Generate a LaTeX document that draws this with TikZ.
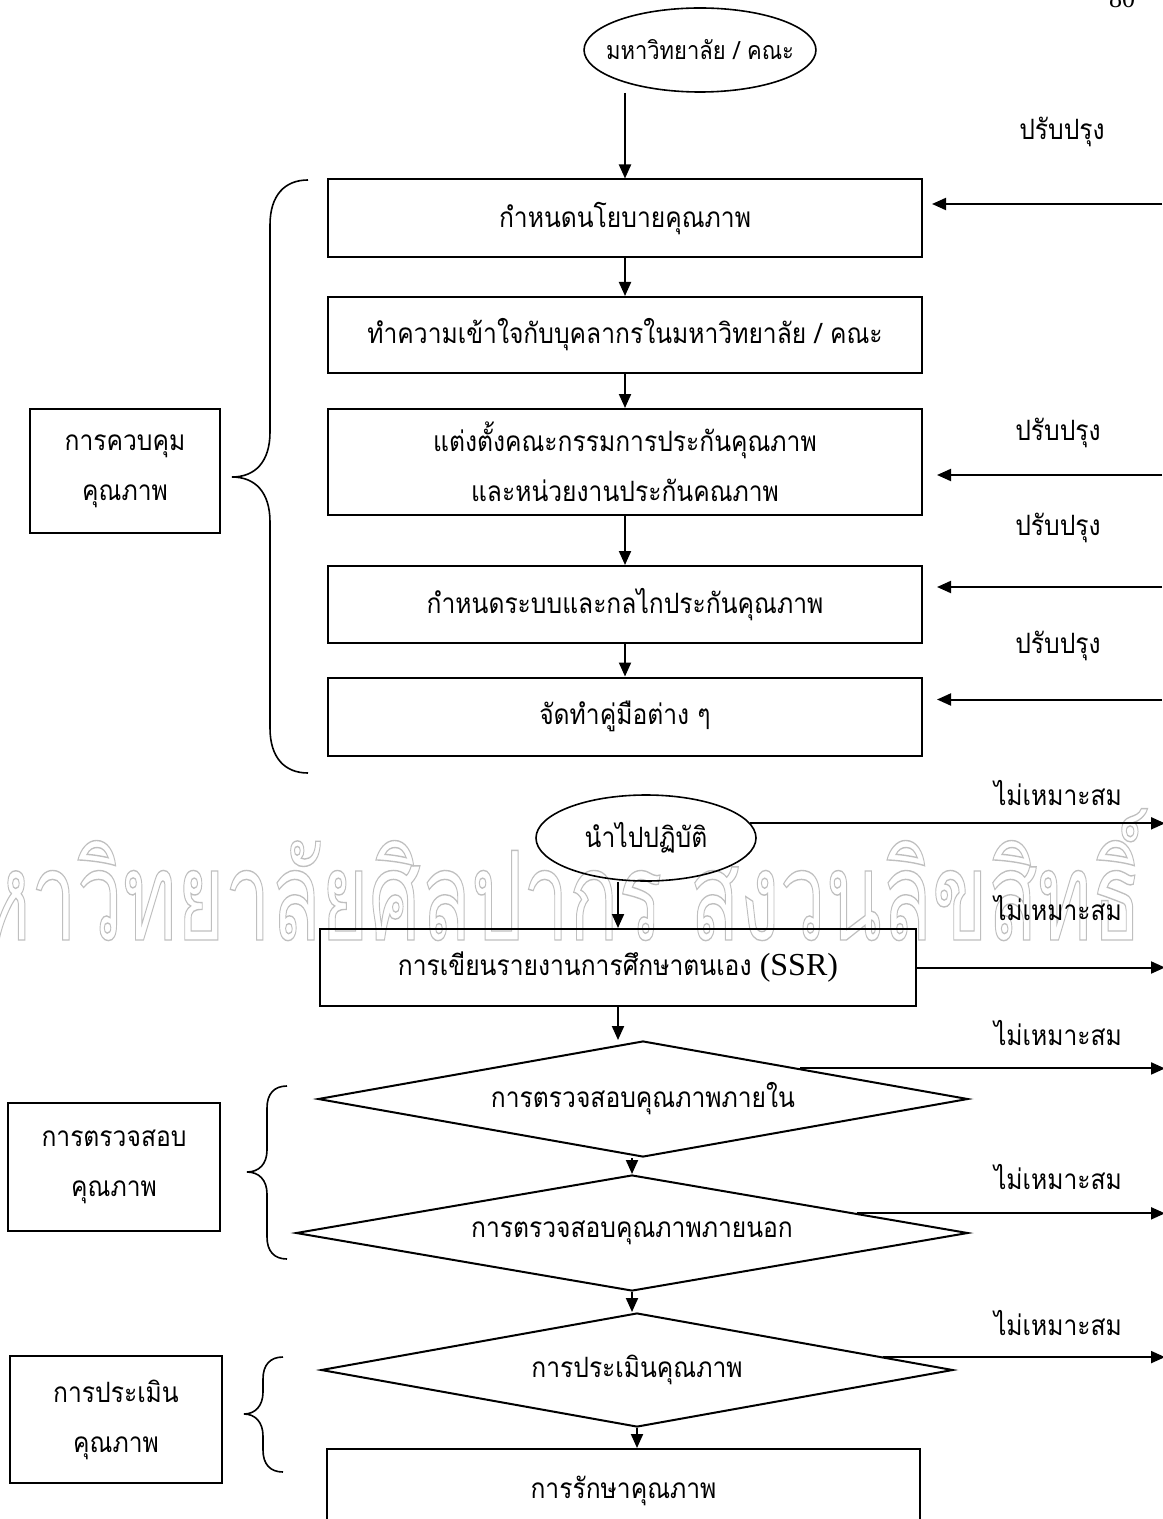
\documentclass[tikz,border=0pt]{standalone}
\usepackage{fontspec}
\setmainfont{Liberation Serif}
\newfontfamily\thaifont[Script=Thai,FakeStretch=0.88]{Loma}
\newfontfamily\markfont[Script=Thai]{Loma}
\usetikzlibrary{shapes}
\usetikzlibrary{shapes.geometric}
\usetikzlibrary{positioning}
\usetikzlibrary{arrows.meta}

\tikzset{
  stepbox/.style={draw, line width=1pt, minimum width=297pt, inner sep=0pt, align=center,
    font=\thaifont\fontsize{14}{25}\selectfont},
  sidebox/.style={draw, line width=1pt, inner sep=0pt, align=center,
    font=\thaifont\fontsize{14}{25}\selectfont},
  checkbox/.style={diamond, draw, line width=1pt, aspect=5, inner sep=0pt,
    font=\thaifont\fontsize{14}{25}\selectfont},
  startbox/.style={ellipse, draw, line width=0.8pt, inner sep=0pt,
    font=\thaifont\fontsize{14}{25}\selectfont},
  note/.style={inner sep=0pt, font=\thaifont\fontsize{14}{25}\selectfont},
  arr/.style={line width=1pt, -{Triangle[length=7pt,width=6pt]}},
  curly/.style={line width=0.8pt}
}

\begin{document}
\begin{tikzpicture}[x=0.5pt, y=-0.5pt]
    \useasboundingbox (0,0) rectangle (1162,1519);

    % watermark
    \node[anchor=base east, inner sep=0pt] (wm) at (1142,940)
        {\scalebox{0.66}[1]{\markfont\fontsize{62}{62}\selectfont\color{black!25}%
        \special{pdf:literal direct 1 Tr 0.7 w}มหาวิทยาลัยศิลปากร สงวนลิขสิทธิ์\special{pdf:literal direct 0 Tr}}};

    \node[anchor=base, inner sep=0pt, font=\fontsize{13}{13}\selectfont] (pg) at (1122,8) {80};

    \node[startbox, inner xsep=-6pt, minimum width=105pt, minimum height=42pt,
        font=\thaifont\fontsize{12.5}{20}\selectfont] (e1) at (700,50) {มหาวิทยาลัย / คณะ};
    \node[stepbox, minimum height=39pt] (b1) at (625,218.5) {กำหนดนโยบายคุณภาพ};
    \node[stepbox, minimum height=38pt] (b2) at (625,335) {ทำความเข้าใจกับบุคลากรในมหาวิทยาลัย / คณะ};
    \node[stepbox, minimum height=53pt] (b3) at (625,462) {แต่งตั้งคณะกรรมการประกันคุณภาพ\\และหน่วยงานประกันคณภาพ};
    \node[stepbox, minimum height=38.5pt] (b4) at (625,604.5) {กำหนดระบบและกลไกประกันคุณภาพ};
    \node[stepbox, minimum height=39pt] (b5) at (625,716.5) {จัดทำคู่มือต่าง ๆ};
    \node[startbox, minimum width=110pt, minimum height=43pt] (e2) at (646,838) {นำไปปฏิบัติ};
    \node[stepbox, minimum width=298pt, minimum height=38.5pt] (b6) at (618,967.5) {การเขียนรายงานการศึกษาตนเอง {\rmfamily\fontsize{16}{16}\selectfont (SSR)}};
    \node[checkbox, minimum width=325pt, minimum height=58pt] (d1) at (643,1099) {การตรวจสอบคุณภาพภายใน};
    \node[checkbox, minimum width=336pt, minimum height=58pt] (d2) at (632,1233) {การตรวจสอบคุณภาพภายนอก};
    \node[checkbox, minimum width=316pt, minimum height=57pt] (d3) at (637,1370) {การประเมินคุณภาพ};
    \node[stepbox, minimum width=296.5pt, minimum height=42pt] (b7) at (623.5,1491) {การรักษาคุณภาพ};

    \node[sidebox, minimum width=95pt, minimum height=62pt] (s1) at (125,471) {การควบคุม\\คุณภาพ};
    \node[sidebox, minimum width=106pt, minimum height=64pt] (s2) at (114,1167) {การตรวจสอบ\\คุณภาพ};
    \node[sidebox, minimum width=106pt, minimum height=63.5pt] (s3) at (116,1419.5) {การประเมิน\\คุณภาพ};

    % braces
    \draw[curly] (308,180) .. controls (285,180) and (270,195) .. (270,225) -- (270,432)
        .. controls (270,462) and (255,477) .. (232,477) .. controls (255,477) and (270,492) .. (270,522)
        -- (270,728) .. controls (270,758) and (285,773) .. (308,773);
    \draw[curly] (287,1086) .. controls (274,1086) and (267,1094) .. (267,1108) -- (267,1150)
        .. controls (267,1164) and (259,1172) .. (247,1172) .. controls (259,1172) and (267,1180) .. (267,1194)
        -- (267,1237) .. controls (267,1251) and (274,1259) .. (287,1259);
    \draw[curly] (283,1357) .. controls (270,1357) and (263,1365) .. (263,1379) -- (263,1392)
        .. controls (263,1406) and (255,1414) .. (244,1414) .. controls (255,1414) and (263,1422) .. (263,1436)
        -- (263,1450) .. controls (263,1464) and (270,1472) .. (283,1472);

    % main flow
    \draw[arr] (e1.south -| b1.north) -- (b1.north);
    \draw[arr] (b1) -- (b2);
    \draw[arr] (b2) -- (b3);
    \draw[arr] (b3) -- (b4);
    \draw[arr] (b4) -- (b5);
    \draw[arr] (e2.south -| b6.north) -- (b6.north);
    \draw[arr] (b6.south) -- (b6.south |- d1.north);
    \draw[arr] (d1.south -| d2.north) -- (d2.north);
    \draw[arr] (d2.south) -- (d2.south |- d3.north);
    \draw[arr] (d3.south) -- (d3.south |- b7.north);

    % back to improve
    \coordinate (r1) at (1162,204);
    \coordinate (r2) at (1162,475);
    \coordinate (r3) at (1162,587);
    \coordinate (r4) at (1162,699.5);
    \draw[arr, shorten >=4.5pt] (r1) -- (b1.east |- r1);
    \draw[arr, shorten >=7pt] (r2) -- (b3.east |- r2);
    \draw[arr, shorten >=7pt] (r3) -- (b4.east |- r3);
    \draw[arr, shorten >=7pt] (r4) -- (b5.east |- r4);
    \node[note] (p1) at (1062,132) {ปรับปรุง};
    \node[note] (p2) at (1058,433) {ปรับปรุง};
    \node[note] (p3) at (1058,528) {ปรับปรุง};
    \node[note] (p4) at (1058,646) {ปรับปรุง};

    % not suitable
    \coordinate (n1) at (1165,829);
    \draw[arr] (e2.8) -- (e2.8 -| n1);
    \draw[arr] (b6.east) -- (b6.east -| n1);
    \draw[arr] (d1.11.6) -- (d1.11.6 -| n1);
    \draw[arr] (d2.5.6) -- (d2.5.6 -| n1);
    \draw[arr] (d3.3) -- (d3.3 -| n1);
    \node[note] (m1) at (1058,793) {ไม่เหมาะสม};
    \node[note] (m2) at (1058,908) {ไม่เหมาะสม};
    \node[note] (m3) at (1058,1033) {ไม่เหมาะสม};
    \node[note] (m4) at (1058,1177) {ไม่เหมาะสม};
    \node[note] (m5) at (1058,1323) {ไม่เหมาะสม};
\end{tikzpicture}
\end{document}
